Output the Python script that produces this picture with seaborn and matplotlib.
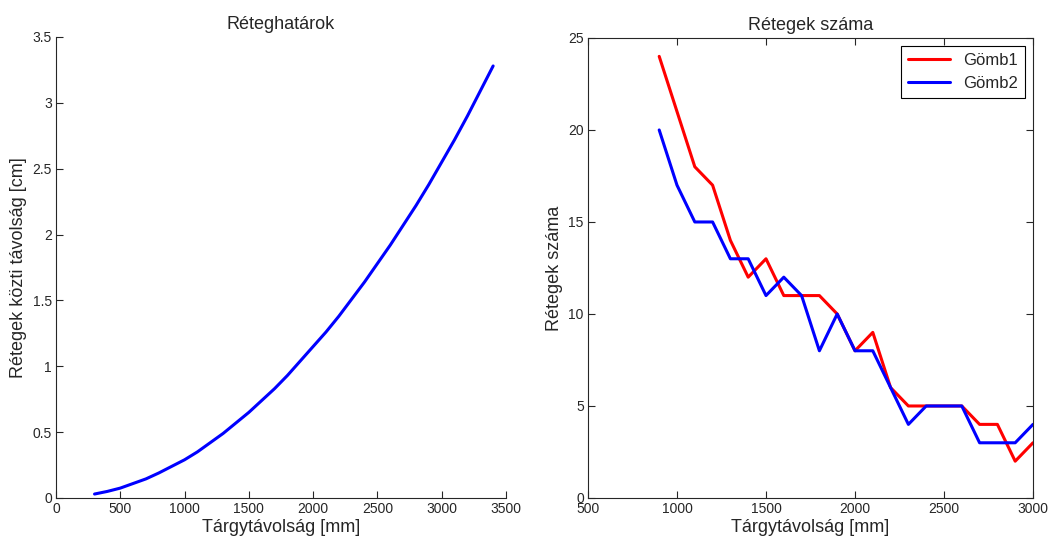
import pandas as pd
import matplotlib.pyplot as plt
import seaborn as sns

# bal oldali görbe: rétegek közti távolság
dist_mm = [300, 400, 500, 600, 700, 800, 900, 1000, 1100, 1200, 1300, 1400, 1500,
           1600, 1700, 1800, 1900, 2000, 2100, 2200, 2300, 2400, 2500, 2600, 2700,
           2800, 2900, 3000, 3100, 3200, 3300, 3400]
layer_gap_cm = [0.03, 0.05, 0.075, 0.11, 0.145, 0.19, 0.24, 0.29, 0.35, 0.42, 0.49,
                0.57, 0.65, 0.74, 0.83, 0.93, 1.04, 1.15, 1.26, 1.38, 1.51, 1.64,
                1.78, 1.92, 2.07, 2.22, 2.38, 2.55, 2.72, 2.90, 3.09, 3.28]

# jobb oldal: rétegek száma
sphere_x = [900, 1000, 1100, 1200, 1300, 1400, 1500, 1600, 1700, 1800, 1900,
            2000, 2100, 2200, 2300, 2400, 2500, 2600, 2700, 2800, 2900, 3000]
gomb1 = [24, 21, 18, 17, 14, 12, 13, 11, 11, 11, 10, 8, 9, 6, 5, 5, 5, 5, 4, 4, 2, 3]
gomb2 = [20, 17, 15, 15, 13, 13, 11, 12, 11, 8, 10, 8, 8, 6, 4, 5, 5, 5, 3, 3, 3, 4]

sns.set_style("ticks")
plt.rcParams['font.family'] = ['Liberation Sans', 'DejaVu Sans']

fig = plt.figure(figsize=(10.5, 5.4), dpi=100)
ax1 = fig.add_axes([0.0533, 0.0778, 0.4286, 0.8537])
ax2 = fig.add_axes([0.56, 0.0778, 0.4238, 0.8519])

df_left = pd.DataFrame({'x': dist_mm, 'y': layer_gap_cm})
sns.lineplot(data=df_left, x='x', y='y', ax=ax1, color='#0000ff', linewidth=2.2)
ax1.set_xlim(0, 3500)
ax1.set_ylim(0, 3.5)
ax1.set_xticks(range(0, 3501, 500))
ax1.set_yticks([0, 0.5, 1, 1.5, 2, 2.5, 3, 3.5])
ax1.set_yticklabels(['0', '0.5', '1', '1.5', '2', '2.5', '3', '3.5'])
ax1.spines['top'].set_visible(False)
ax1.spines['right'].set_visible(False)
ax1.set_title('Réteghatárok', fontsize=13)
ax1.set_xlabel('Tárgytávolság [mm]', fontsize=13, labelpad=2)
ax1.set_ylabel('Rétegek közti távolság [cm]', fontsize=13, labelpad=4)

df_right = pd.DataFrame({
    'x': sphere_x * 2,
    'y': gomb1 + gomb2,
    'series': ['Gömb1'] * len(gomb1) + ['Gömb2'] * len(gomb2),
})
sns.lineplot(data=df_right, x='x', y='y', hue='series', ax=ax2,
             palette={'Gömb1': '#ff0000', 'Gömb2': '#0000ff'}, linewidth=2.2)
ax2.set_xlim(500, 3000)
ax2.set_ylim(0, 25)
ax2.set_xticks(range(500, 3001, 500))
ax2.set_yticks(range(0, 26, 5))
ax2.set_title('Rétegek száma', fontsize=13)
ax2.set_xlabel('Tárgytávolság [mm]', fontsize=13, labelpad=2)
ax2.set_ylabel('Rétegek száma', fontsize=13, labelpad=4)
ax2.tick_params(top=True, right=True)
leg = ax2.legend(loc='upper right', fontsize=12, fancybox=False, framealpha=1,
                 edgecolor='black', handlelength=2.5, borderaxespad=0.5)
leg.get_frame().set_linewidth(0.8)
leg.set_title(None)

for ax in (ax1, ax2):
    ax.tick_params(direction='in', length=5, width=0.8, labelsize=10,
                   colors='#262626', pad=3)
    for s in ax.spines.values():
        s.set_color('#262626')
        s.set_linewidth(0.8)

fig.savefig('out.png', dpi=100)
